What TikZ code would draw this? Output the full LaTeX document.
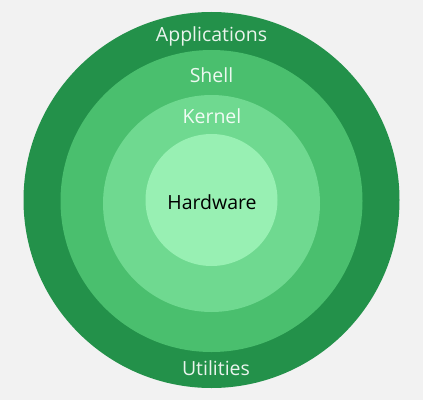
\documentclass[tikz,border=0pt]{standalone}
\usepackage{fontspec}
\setmainfont{Open Sans}
\usepackage{tikz}
\usetikzlibrary{positioning}
\definecolor{bgray}{HTML}{F2F2F2}
\definecolor{appsgreen}{HTML}{23914A}
\definecolor{shellgreen}{HTML}{4ABF6E}
\definecolor{kernelgreen}{HTML}{6FD990}
\definecolor{hwgreen}{HTML}{98F0B3}
\tikzset{
    layer/.style={circle, inner sep=0pt, draw=none}, % concentric layer
    layer label/.style={anchor=base, font=\fontsize{19.5}{22}\selectfont, text=white, text opacity=0.9} % ring label
}
\begin{document}
\begin{tikzpicture}[x=1pt, y=1pt]
    \fill[bgray] (0,0) rectangle (423,400);
    \useasboundingbox (0,0) rectangle (423,400);

    \node[layer, fill=appsgreen, minimum size=376pt] (apps) at (211.5,200) {};
    \node[layer, fill=shellgreen, minimum size=302pt] (shell) at (211.5,199) {};
    \node[layer, fill=kernelgreen, minimum size=217pt] (kernel) at (211.5,196.5) {};
    \node[layer, fill=hwgreen, minimum size=132pt] (hw) at (211.5,200) {};

    \node[layer label] (applabel) at (211.5,358) {Applications};
    \node[layer label] (shelllabel) at (211.5,318) {Shell};
    \node[layer label] (kernellabel) at (212,277) {Kernel};
    \node[layer label, text=black, text opacity=1] (hwlabel) at (212,191) {Hardware};
    \node[layer label] (utillabel) at (216,25) {Utilities};
\end{tikzpicture}
\end{document}
